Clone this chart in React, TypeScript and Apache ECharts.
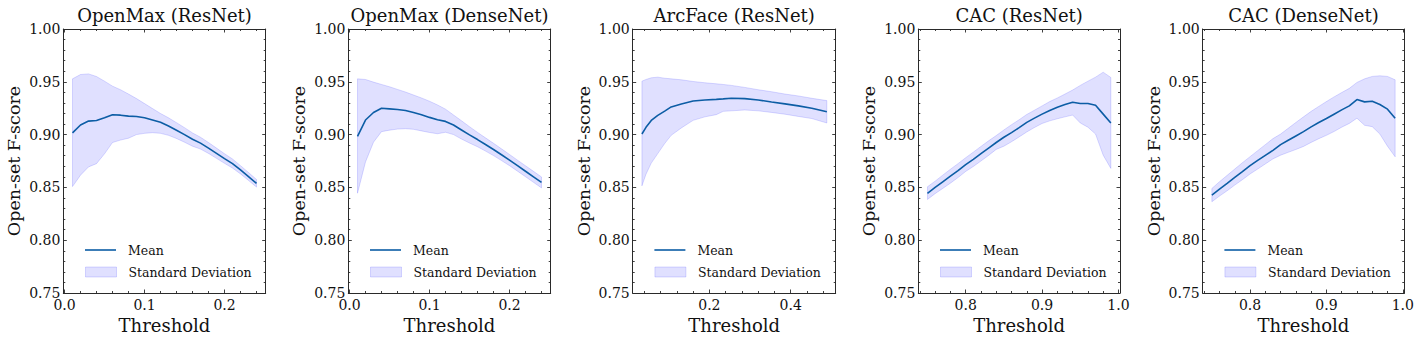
import { useEffect, useRef } from "react";
import * as echarts from "echarts";

// ---------- data ----------
const TITLES = ["OpenMax (ResNet)", "OpenMax (DenseNet)", "ArcFace (ResNet)", "CAC (ResNet)", "CAC (DenseNet)"];
const X_LABEL = "Threshold";
const Y_LABEL = "Open-set F-score";
const LEGEND_MEAN = "Mean";
const LEGEND_SD = "Standard Deviation";

// thresholds
const X_OPENMAX = [0.01, 0.02, 0.03, 0.04, 0.05, 0.06, 0.07, 0.08, 0.09, 0.1, 0.11, 0.12, 0.13, 0.14, 0.15, 0.16, 0.17, 0.18, 0.19, 0.2, 0.21, 0.22, 0.23, 0.24];
const X_ARCFACE = [0.034, 0.044, 0.057, 0.073, 0.09, 0.106, 0.131, 0.16, 0.189, 0.217, 0.234, 0.254, 0.287, 0.32, 0.353, 0.386, 0.419, 0.452, 0.489];
const X_CAC = [0.75, 0.76, 0.77, 0.78, 0.79, 0.8, 0.81, 0.82, 0.83, 0.84, 0.85, 0.86, 0.87, 0.88, 0.89, 0.9, 0.91, 0.92, 0.93, 0.94, 0.95, 0.96, 0.97, 0.98, 0.99];

// OpenMax (ResNet)
const P1_MEAN = [0.9016, 0.9091, 0.9128, 0.9134, 0.9159, 0.9188, 0.9184, 0.9175, 0.9172, 0.9159, 0.9138, 0.9116, 0.9081, 0.9041, 0.9, 0.8956, 0.8919, 0.8872, 0.8822, 0.8772, 0.8725, 0.8666, 0.8603, 0.8538];
const P1_UPPER = [0.9528, 0.9569, 0.9575, 0.955, 0.9506, 0.9459, 0.9425, 0.9384, 0.9341, 0.9294, 0.9247, 0.92, 0.9159, 0.9113, 0.9066, 0.9016, 0.8975, 0.8925, 0.8872, 0.8819, 0.8769, 0.8706, 0.8641, 0.8575];
const P1_LOWER = [0.8508, 0.8616, 0.8694, 0.8725, 0.8818, 0.8925, 0.8948, 0.8966, 0.9, 0.9012, 0.9018, 0.9012, 0.8993, 0.8963, 0.8928, 0.889, 0.8863, 0.8822, 0.8775, 0.8728, 0.8683, 0.8628, 0.8566, 0.8503];

// OpenMax (DenseNet)
const P2_MEAN = [0.8984, 0.9138, 0.9209, 0.925, 0.9244, 0.9238, 0.9228, 0.9209, 0.9188, 0.9163, 0.9141, 0.9125, 0.9091, 0.9044, 0.8997, 0.8953, 0.8906, 0.8859, 0.8809, 0.8759, 0.8706, 0.8653, 0.86, 0.8547];
const P2_UPPER = [0.9528, 0.9522, 0.9497, 0.9475, 0.9453, 0.9428, 0.9403, 0.9375, 0.9347, 0.9316, 0.9281, 0.9241, 0.9186, 0.9131, 0.9075, 0.9021, 0.8969, 0.8918, 0.8865, 0.8812, 0.8758, 0.8705, 0.8652, 0.8599];
const P2_LOWER = [0.8445, 0.8741, 0.8928, 0.9028, 0.9042, 0.9052, 0.9056, 0.905, 0.9035, 0.902, 0.9008, 0.9022, 0.9, 0.8958, 0.892, 0.8885, 0.8844, 0.8801, 0.8754, 0.8706, 0.8654, 0.8601, 0.8548, 0.8495];

// ArcFace (ResNet)
const P3_MEAN = [0.9006, 0.9069, 0.9134, 0.9182, 0.9222, 0.9262, 0.929, 0.9318, 0.9328, 0.9334, 0.9338, 0.9344, 0.9341, 0.9328, 0.9309, 0.9291, 0.9272, 0.925, 0.9216];
const P3_UPPER = [0.9506, 0.9522, 0.9538, 0.9544, 0.9534, 0.9528, 0.9519, 0.9503, 0.9491, 0.9481, 0.9475, 0.9466, 0.9447, 0.9425, 0.9406, 0.9384, 0.9366, 0.9344, 0.9322];
const P3_LOWER = [0.8515, 0.8625, 0.873, 0.882, 0.8915, 0.8993, 0.9063, 0.9135, 0.9168, 0.9189, 0.922, 0.9225, 0.9233, 0.9225, 0.921, 0.9193, 0.9172, 0.9152, 0.911];

// CAC (ResNet)
const P4_MEAN = [0.8444, 0.85, 0.8553, 0.8606, 0.8659, 0.8716, 0.8766, 0.8819, 0.8872, 0.8925, 0.8975, 0.9019, 0.9066, 0.9116, 0.9156, 0.9194, 0.9228, 0.9259, 0.9284, 0.9306, 0.9294, 0.9294, 0.9278, 0.9194, 0.9109];
const P4_UPPER = [0.8506, 0.8559, 0.8616, 0.8672, 0.8725, 0.8781, 0.8834, 0.8888, 0.8941, 0.8991, 0.9044, 0.9094, 0.9141, 0.9191, 0.9231, 0.9272, 0.9313, 0.9347, 0.9384, 0.9422, 0.9466, 0.9506, 0.9544, 0.9591, 0.9541];
const P4_LOWER = [0.8386, 0.8441, 0.849, 0.854, 0.8593, 0.8651, 0.8698, 0.875, 0.8803, 0.886, 0.889, 0.8932, 0.8978, 0.9025, 0.9067, 0.9105, 0.913, 0.915, 0.9168, 0.9185, 0.911, 0.907, 0.9005, 0.8805, 0.868];

// CAC (DenseNet)
const P5_MEAN = [0.8427, 0.8484, 0.8538, 0.8595, 0.8649, 0.8706, 0.8756, 0.8804, 0.8851, 0.8905, 0.8946, 0.8987, 0.9028, 0.9073, 0.9114, 0.9152, 0.9193, 0.9234, 0.9272, 0.9332, 0.931, 0.9316, 0.9285, 0.9241, 0.9155];
const P5_UPPER = [0.849, 0.8554, 0.8614, 0.8674, 0.8734, 0.8791, 0.8848, 0.8905, 0.8962, 0.9005, 0.906, 0.9115, 0.9168, 0.922, 0.9267, 0.9313, 0.9357, 0.9398, 0.9438, 0.9494, 0.9528, 0.9551, 0.9557, 0.9551, 0.9519];
const P5_LOWER = [0.8364, 0.8418, 0.8468, 0.8522, 0.8573, 0.8627, 0.8674, 0.8722, 0.877, 0.8805, 0.8832, 0.8859, 0.8888, 0.8926, 0.8961, 0.8993, 0.9029, 0.907, 0.9106, 0.9155, 0.9088, 0.9075, 0.9005, 0.889, 0.879];

// axes
const Y_RANGE = [0.75, 1.0];
const Y_MAJOR = [0.75, 0.8, 0.85, 0.9, 0.95, 1.0];
const Y_MINOR = [0.76, 0.77, 0.78, 0.79, 0.81, 0.82, 0.83, 0.84, 0.86, 0.87, 0.88, 0.89, 0.91, 0.92, 0.93, 0.94, 0.96, 0.97, 0.98, 0.99];
const X_RANGE_OPENMAX = [-0.0015, 0.2515];
const X_MAJOR_OPENMAX = [0, 0.1, 0.2];
const X_MINOR_OPENMAX = [0.02, 0.04, 0.06, 0.08, 0.12, 0.14, 0.16, 0.18, 0.22, 0.24];
const X_RANGE_ARCFACE = [0.0113, 0.5108];
const X_MAJOR_ARCFACE = [0.2, 0.4];
const X_MINOR_ARCFACE = [0.04, 0.08, 0.12, 0.16, 0.24, 0.28, 0.32, 0.36, 0.44, 0.48];
const X_RANGE_CAC = [0.738, 1.002];
const X_MAJOR_CAC = [0.8, 0.9, 1.0];
const X_MINOR_CAC = [0.74, 0.76, 0.78, 0.82, 0.84, 0.86, 0.88, 0.92, 0.94, 0.96, 0.98];

// ---------- layout & style ----------
const GRID_LEFT = [63.3, 348.3, 632.7, 918.3, 1202.7];
const GRID_WIDTH = [202.4, 202.4, 203, 201.7, 201.6];
const GRID_TOP = 29;
const GRID_HEIGHT = 264;
const FONT = "DejaVu Serif";
const BLUE = "#0C5DA5";
const FILL = "rgba(0, 0, 255, 0.12)";
const EDGE = "rgba(0, 0, 255, 0.14)";
const AXIS_COLOR = "#2a2a2a";
const TEXT_COLOR = "#111";

const PLOTS = [
  { x: X_OPENMAX, mean: P1_MEAN, upper: P1_UPPER, lower: P1_LOWER, range: X_RANGE_OPENMAX, major: X_MAJOR_OPENMAX, minor: X_MINOR_OPENMAX },
  { x: X_OPENMAX, mean: P2_MEAN, upper: P2_UPPER, lower: P2_LOWER, range: X_RANGE_OPENMAX, major: X_MAJOR_OPENMAX, minor: X_MINOR_OPENMAX },
  { x: X_ARCFACE, mean: P3_MEAN, upper: P3_UPPER, lower: P3_LOWER, range: X_RANGE_ARCFACE, major: X_MAJOR_ARCFACE, minor: X_MINOR_ARCFACE },
  { x: X_CAC, mean: P4_MEAN, upper: P4_UPPER, lower: P4_LOWER, range: X_RANGE_CAC, major: X_MAJOR_CAC, minor: X_MINOR_CAC },
  { x: X_CAC, mean: P5_MEAN, upper: P5_UPPER, lower: P5_LOWER, range: X_RANGE_CAC, major: X_MAJOR_CAC, minor: X_MINOR_CAC },
];

function buildOption() {
  const grid: any[] = [];
  const xAxis: any[] = [];
  const yAxis: any[] = [];
  const series: any[] = [];
  const legend: any[] = [];
  const lineStyle = { color: AXIS_COLOR, width: 1 };
  const tickStyle = { color: AXIS_COLOR, width: 0.9 };
  const textBase = { fontFamily: FONT, fontWeight: "normal", color: TEXT_COLOR };

  PLOTS.forEach((p, i) => {
    grid.push({ left: GRID_LEFT[i], top: GRID_TOP, width: GRID_WIDTH[i], height: GRID_HEIGHT, containLabel: false, outerBoundsMode: "none" });

    const xBase = { type: "value", gridIndex: i, min: p.range[0], max: p.range[1], splitLine: { show: false } };
    xAxis.push({
      ...xBase,
      position: "bottom",
      axisLine: { show: true, onZero: false, lineStyle },
      axisTick: { show: true, inside: true, length: 3.5, customValues: p.major, lineStyle: tickStyle },
      axisLabel: { show: true, customValues: p.major, margin: 5, formatter: (v: number) => v.toFixed(1), ...textBase, fontSize: 14 },
      name: X_LABEL,
      nameLocation: "middle",
      nameGap: 16,
      nameTextStyle: { ...textBase, fontSize: 18 },
    });
    xAxis.push({
      ...xBase,
      position: "bottom",
      axisLine: { show: false, onZero: false },
      axisTick: { show: true, inside: true, length: 2, customValues: p.minor, lineStyle: tickStyle },
      axisLabel: { show: false },
    });
    xAxis.push({
      ...xBase,
      position: "top",
      axisLine: { show: true, onZero: false, lineStyle },
      axisTick: { show: true, inside: true, length: 3.5, customValues: p.major, lineStyle: tickStyle },
      axisLabel: { show: false },
      name: TITLES[i],
      nameLocation: "middle",
      nameGap: 5,
      nameTextStyle: { ...textBase, fontSize: 18 },
    });
    xAxis.push({
      ...xBase,
      position: "top",
      axisLine: { show: false, onZero: false },
      axisTick: { show: true, inside: true, length: 2, customValues: p.minor, lineStyle: tickStyle },
      axisLabel: { show: false },
    });

    const yBase = { type: "value", gridIndex: i, min: Y_RANGE[0], max: Y_RANGE[1], splitLine: { show: false } };
    yAxis.push({
      ...yBase,
      position: "left",
      axisLine: { show: true, onZero: false, lineStyle },
      axisTick: { show: true, inside: true, length: 3.5, customValues: Y_MAJOR, lineStyle: tickStyle },
      axisLabel: { show: true, customValues: Y_MAJOR, margin: 3, formatter: (v: number) => v.toFixed(2), ...textBase, fontSize: 14 },
      name: Y_LABEL,
      nameLocation: "middle",
      nameGap: 40,
      nameTextStyle: { ...textBase, fontSize: 17.5 },
    });
    yAxis.push({
      ...yBase,
      position: "left",
      axisLine: { show: false, onZero: false },
      axisTick: { show: true, inside: true, length: 2, customValues: Y_MINOR, lineStyle: tickStyle },
      axisLabel: { show: false },
    });
    yAxis.push({
      ...yBase,
      position: "right",
      axisLine: { show: true, onZero: false, lineStyle },
      axisTick: { show: true, inside: true, length: 3.5, customValues: Y_MAJOR, lineStyle: tickStyle },
      axisLabel: { show: false },
    });
    yAxis.push({
      ...yBase,
      position: "right",
      axisLine: { show: false, onZero: false },
      axisTick: { show: true, inside: true, length: 2, customValues: Y_MINOR, lineStyle: tickStyle },
      axisLabel: { show: false },
    });

    const xi = i * 4;
    const yi = i * 4;
    const bandData = p.x.map((x, k) => [x, p.lower[k], p.upper[k]]);
    series.push({
      type: "custom",
      name: LEGEND_SD,
      xAxisIndex: xi,
      yAxisIndex: yi,
      silent: true,
      clip: true,
      itemStyle: { color: FILL },
      encode: { x: 0, y: [1, 2] },
      data: bandData,
      renderItem: (params: any, api: any) => {
        if (params.dataIndex !== 0) return null;
        const top = bandData.map((d) => api.coord([d[0], d[2]]));
        const bottom = bandData.map((d) => api.coord([d[0], d[1]])).reverse();
        return {
          type: "polygon",
          shape: { points: top.concat(bottom) },
          style: { fill: FILL, stroke: EDGE, lineWidth: 1 },
        };
      },
      z: 1,
    });
    series.push({
      type: "line",
      name: LEGEND_MEAN,
      xAxisIndex: xi,
      yAxisIndex: yi,
      symbol: "none",
      silent: true,
      data: p.x.map((x, k) => [x, p.mean[k]]),
      lineStyle: { color: BLUE, width: 1.6 },
      itemStyle: { color: BLUE },
      z: 3,
    });

    const legendCommon = {
      left: GRID_LEFT[i] + 21.7,
      orient: "vertical",
      padding: 0,
      itemWidth: 31,
      selectedMode: false,
      textStyle: { ...textBase, fontSize: 12.5, lineHeight: 18, padding: [0, 0, 0, 7] },
    };
    legend.push({
      ...legendCommon,
      top: 241,
      itemHeight: 1.6,
      data: [{ name: LEGEND_MEAN, icon: "rect", itemStyle: { color: BLUE, borderWidth: 0 } }],
    });
    legend.push({
      ...legendCommon,
      top: 263,
      itemHeight: 10,
      data: [{ name: LEGEND_SD, icon: "rect", itemStyle: { color: FILL, borderColor: EDGE, borderWidth: 1 } }],
    });
  });

  return {
    animation: false,
    backgroundColor: "#ffffff",
    textStyle: { fontFamily: FONT },
    grid,
    xAxis,
    yAxis,
    legend,
    series,
  };
}

export default function App() {
  const ref = useRef<HTMLDivElement>(null);
  useEffect(() => {
    if (!ref.current) return;
    const chart = echarts.init(ref.current, null, { renderer: "svg" });
    chart.setOption(buildOption() as any);
    return () => chart.dispose();
  }, []);
  return (
    <div
      ref={ref}
      style={{ position: "fixed", left: 0, top: 0, width: 1419, height: 342, background: "#fff" }}
    />
  );
}
